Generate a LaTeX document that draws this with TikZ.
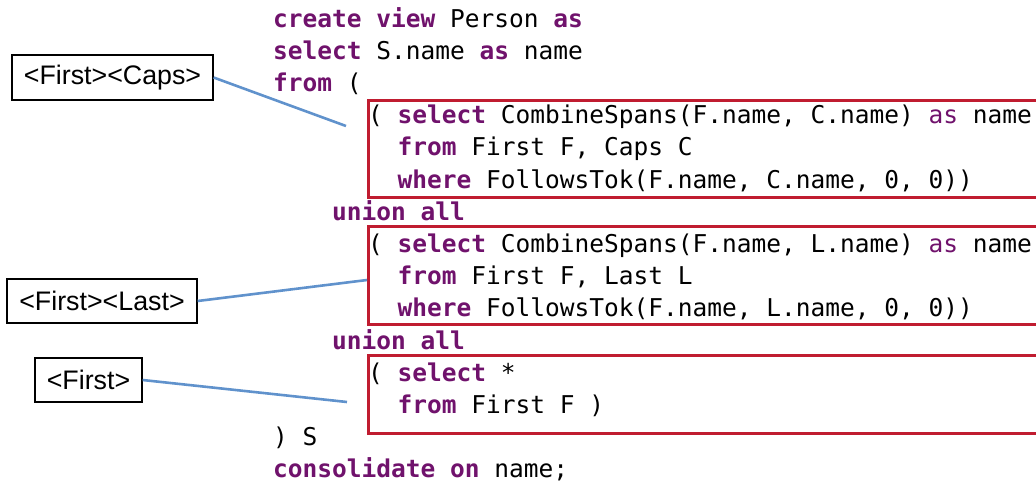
\documentclass[tikz,border=0pt]{standalone}
\usepackage{fontspec}
\setmainfont{Liberation Sans}
\setmonofont{DejaVu Sans Mono}
\definecolor{kwcol}{RGB}{112,18,108}
\definecolor{boxred}{RGB}{192,28,48}
\definecolor{connblue}{RGB}{96,146,204}
\newcommand{\kw}[1]{\textbf{\textcolor{kwcol}{#1}}}
\newcommand{\kwl}[1]{\textcolor{kwcol}{#1}}
\frenchspacing
\begin{document}
\begin{tikzpicture}[x=1pt,y=-1pt,
  code/.style={anchor=base west, inner sep=0pt, font=\ttfamily\fontsize{24.5}{30}\selectfont},
  redbox/.style={draw=boxred, line width=3pt, anchor=north west, inner sep=0pt},
  lab/.style={draw=black, line width=1.3pt, inner sep=0pt, font=\fontsize{26.8}{30}\selectfont},
  conn/.style={draw=connblue, line width=2.6pt}]
\useasboundingbox (0,0) rectangle (1036,483);
\clip (0,0) rectangle (1036,483);
% red boxes
\node[redbox, minimum width=700pt, minimum height=97pt] (b1) at (367,99) {};
\node[redbox, minimum width=700pt, minimum height=98pt] (b2) at (367,225) {};
\node[redbox, minimum width=700pt, minimum height=78pt] (b3) at (367,354) {};
% code
\node[code] (c1) at (273,27) {\kw{create view} Person \kw{as}};
\node[code] (c2) at (273,59.2) {\kw{select} S.name \kw{as} name};
\node[code] (c3) at (273,91.4) {\kw{from} (};
\node[code] (c4) at (368,123.6) {( \kw{select} CombineSpans(F.name, C.name) \kwl{as} name};
\node[code] (c5) at (397.5,155.8) {\kw{from} First F, Caps C};
\node[code] (c6) at (397.5,188) {\kw{where} FollowsTok(F.name, C.name, 0, 0))};
\node[code] (c7) at (332,220.2) {\kw{union all}};
\node[code] (c8) at (368,252.4) {( \kw{select} CombineSpans(F.name, L.name) \kwl{as} name};
\node[code] (c9) at (397.5,284.6) {\kw{from} First F, Last L};
\node[code] (c10) at (397.5,316.8) {\kw{where} FollowsTok(F.name, L.name, 0, 0))};
\node[code] (c11) at (332,349) {\kw{union all}};
\node[code] (c12) at (368,381.2) {( \kw{select} *};
\node[code] (c13) at (397.5,413.4) {\kw{from} First F )};
\node[code] (c14) at (273,445.6) {) S};
\node[code] (c15) at (273,477.8) {\kw{consolidate on} name;};
% labels
\node[lab, minimum width=201pt, minimum height=45pt] (l1) at (112.5,77.5) {<First><Caps>};
\node[lab, minimum width=190pt, minimum height=44pt] (l2) at (102,301) {<First><Last>};
\node[lab, minimum width=107pt, minimum height=44pt] (l3) at (88.5,380) {<First>};
% connectors
\coordinate (e1) at (346,126);
\coordinate (e2) at (367,280);
\coordinate (e3) at (347,402);
\draw[conn] (l1.east) -- (e1);
\draw[conn] (l2.east) -- (e2);
\draw[conn] (l3.east) -- (e3);
\end{tikzpicture}
\end{document}
